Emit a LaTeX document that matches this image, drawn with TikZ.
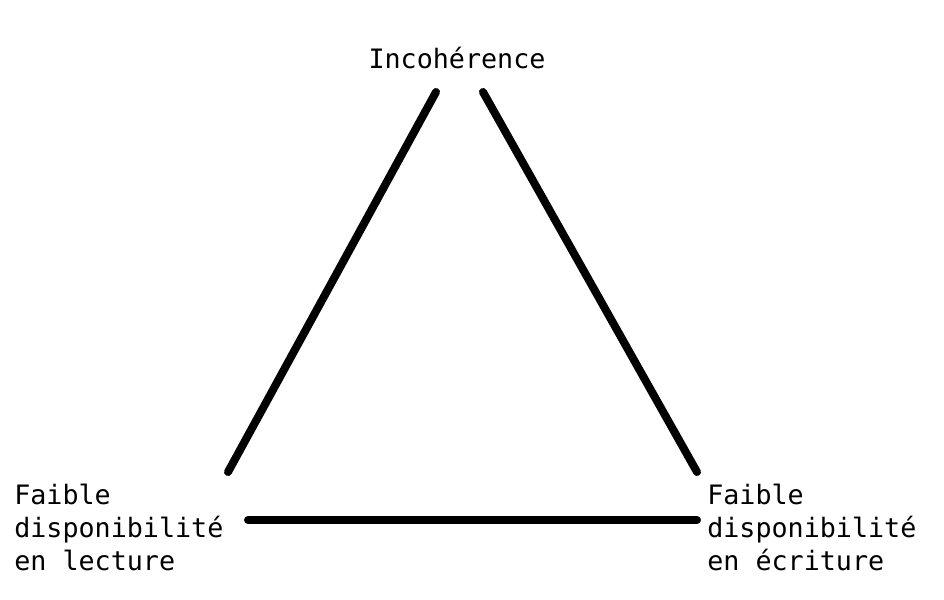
\documentclass[tikz,border=0pt]{standalone}
\usepackage{fontspec}
\setmonofont{DejaVu Sans Mono}
\begin{document}
\begin{tikzpicture}[x=0.025cm,y=-0.025cm,
    lbl/.style={font=\ttfamily\fontsize{19}{23.2}\selectfont, inner sep=0pt, align=left},
    edge/.style={line width=5.7pt, line cap=round}]
        \useasboundingbox (0,0) rectangle (944,599);

        \node[lbl, anchor=base] (inco) at (457,68) {Incoh\'{e}rence};
        \node[lbl, anchor=base west] (lect) at (14,570) {Faible\\disponibilit\'{e}\\en lecture};
        \node[lbl, anchor=base west] (ecri) at (707,570) {Faible\\disponibilit\'{e}\\en \'{e}criture};

        \coordinate (inco-l) at (436,92);
        \coordinate (inco-r) at (483,92);
        \coordinate (lect-t) at (228,472);
        \coordinate (lect-r) at (248,520);
        \coordinate (ecri-t) at (697,472);
        \coordinate (ecri-l) at (697,520);

        \draw[edge] (lect-t) -- (inco-l);
        \draw[edge] (inco-r) -- (ecri-t);
        \draw[edge] (lect-r) -- (ecri-l);
    \end{tikzpicture}
\end{document}
